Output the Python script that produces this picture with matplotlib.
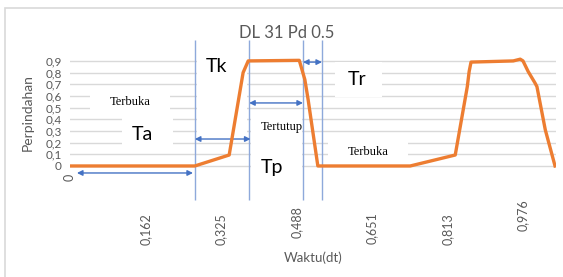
import matplotlib
matplotlib.use('Agg')
import matplotlib.pyplot as plt
from matplotlib.patches import Rectangle

# Series: time (s) vs displacement
waktu = [0, 0.269, 0.343, 0.373, 0.384, 0.494, 0.506, 0.513, 0.534, 0.733,
         0.830, 0.856, 0.860, 0.864, 0.955, 0.970, 0.976, 0.987, 1.002,
         1.006, 1.024, 1.045]
perpindahan = [0, 0, 0.094, 0.80, 0.90, 0.905, 0.74, 0.57, 0, 0,
               0.094, 0.68, 0.81, 0.89, 0.90, 0.915, 0.90, 0.81, 0.71,
               0.68, 0.31, 0]

# Category labels of the x axis
xticks = [0, 0.1627, 0.325, 0.488, 0.651, 0.813, 0.976]
xlabels = ['0', '0,162', '0,325', '0,488', '0,651', '0,813', '0,976']
yticks = [0, 0.1, 0.2, 0.3, 0.4, 0.5, 0.6, 0.7, 0.8, 0.9]
ylabels = ['0', '0,1', '0,2', '0,3', '0,4', '0,5', '0,6', '0,7', '0,8', '0,9']

# Phase markers (time) drawn on top of the chart
batas = [0.269, 0.386, 0.502, 0.543]

grey = '#595959'
orange = '#ED7D31'
blue = '#4472C4'
lightblue = '#8EA9DB'
plt.rcParams['font.family'] = ['Lato', 'DejaVu Sans']

fig = plt.figure(figsize=(5.63, 2.77), dpi=100)
ax = fig.add_axes([0.1243, 0.2744, 0.8632, 0.611])
ax.set_xlim(0, 1.047)
ax.set_ylim(-0.3, 1.15)

# Chart border (cut at right and bottom)
fig.patches.append(Rectangle((0.0089, -0.02), 1.05, 0.991, transform=fig.transFigure,
                             fill=False, ec='#d9d9d9', lw=1.2))

# Gridlines
for y in yticks:
    ax.axhline(y, color='#d9d9d9', lw=1, zorder=0.5)

ax.plot(waktu, perpindahan, color=orange, lw=2.4, zorder=5, solid_joinstyle='round')

for s in ax.spines.values():
    s.set_visible(False)
ax.set_xticks([])
ax.set_yticks(yticks)
ax.set_yticklabels(ylabels, color=grey, fontsize=8.5)
ax.tick_params(axis='y', length=0, pad=6)

# rotated category labels (positions as in the source picture)
label_y = [-0.094, -0.54, -0.54, -0.48, -0.53, -0.54, -0.42]
for x, lab, yy in zip(xticks, xlabels, label_y):
    ax.text(x, yy, lab, rotation=90, ha='center', va='center', color=grey,
            fontsize=9, clip_on=False)

fig.text(287 / 563, 1 - 33 / 277, 'DL 31 Pd 0.5', ha='center', va='center',
         color=grey, fontsize=12)
fig.text(28 / 563, 1 - 113 / 277, 'Perpindahan', rotation=90, ha='center',
         va='center', color=grey, fontsize=10)
fig.text(313 / 563, 1 - 258 / 277, 'Waktu(dt)', ha='center', va='center',
         color=grey, fontsize=9.5)

# vertical phase lines
ax.vlines(batas, -0.29, 1.08, color=lightblue, lw=1, zorder=1, clip_on=False)

# white text boxes
boxes = [(0.043, 0.216, 0.446, 0.651), (0.112, 0.222, 0.137, 0.454),
         (0.274, 0.381, 0.257, 0.994), (0.390, 0.500, 0.266, 0.463),
         (0.390, 0.500, -0.291, 0.223), (0.571, 0.672, 0.591, 0.891),
         (0.556, 0.728, 0.026, 0.223)]
for x0, x1, y0, y1 in boxes:
    ax.add_patch(Rectangle((x0, y0), x1 - x0, y1 - y0, fc='white', ec='none',
                           zorder=2, clip_on=False))

# double arrows
arrows = [(0.015, 0.265, -0.06), (0.269, 0.389, 0.231),
          (0.386, 0.502, 0.54), (0.502, 0.543, 0.89)]
for x0, x1, y in arrows:
    ax.annotate('', xy=(x1, y), xytext=(x0, y), zorder=3,
                arrowprops=dict(arrowstyle='<|-|>', color=blue, lw=1,
                                mutation_scale=8, shrinkA=0, shrinkB=0),
                annotation_clip=False)

serif = 'Liberation Serif'
ax.text(0.129, 0.548, 'Terbuka', family=serif, fontsize=9, ha='center', va='center', zorder=4)
ax.text(0.642, 0.12, 'Terbuka', family=serif, fontsize=9, ha='center', va='center', zorder=4)
ax.text(0.457, 0.334, 'Tertutup', family=serif, fontsize=9, ha='center', va='center', zorder=4)
ax.text(0.157, 0.266, 'Ta', fontsize=14, ha='center', va='center', zorder=4)
ax.text(0.315, 0.848, 'Tk', fontsize=14, ha='center', va='center', zorder=4)
ax.text(0.435, -0.017, 'Tp', fontsize=14, ha='center', va='center', zorder=4)
ax.text(0.619, 0.737, 'Tr', fontsize=14, ha='center', va='center', zorder=4)

fig.savefig('out.png', dpi=100)
